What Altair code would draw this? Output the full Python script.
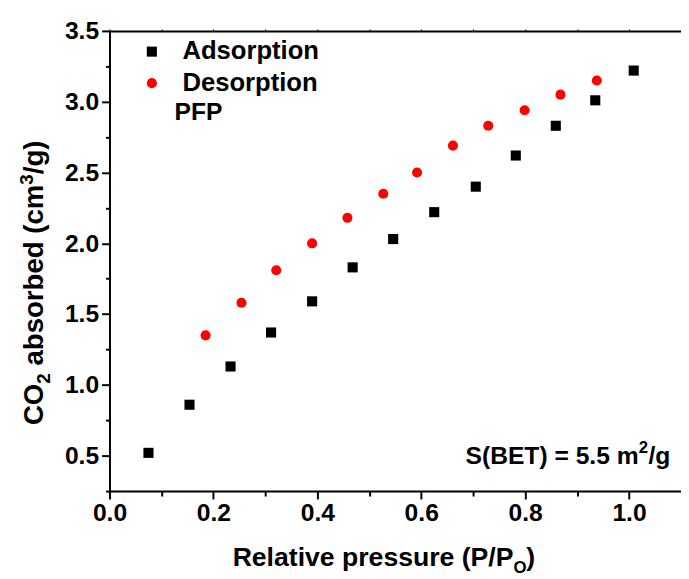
import altair as alt
import pandas as pd

# ---- data ----
ads_x = [0.075, 0.154, 0.233, 0.311, 0.390, 0.468, 0.546, 0.625, 0.705, 0.782, 0.859, 0.935, 1.009]
ads_y = [0.52, 0.86, 1.13, 1.37, 1.59, 1.83, 2.03, 2.22, 2.40, 2.62, 2.83, 3.01, 3.22]
des_x = [0.185, 0.254, 0.321, 0.390, 0.458, 0.527, 0.592, 0.661, 0.729, 0.799, 0.868, 0.938]
des_y = [1.35, 1.58, 1.81, 2.00, 2.18, 2.35, 2.50, 2.69, 2.83, 2.94, 3.05, 3.15]
series = ["Adsorption", "Desorption"]
colors = ["#000000", "#ff0000"]
shapes = ["square", "circle"]
x_ticks = [0.0, 0.1, 0.2, 0.3, 0.4, 0.5, 0.6, 0.7, 0.8, 0.9, 1.0]
y_ticks = [0.25, 0.5, 0.75, 1.0, 1.25, 1.5, 1.75, 2.0, 2.25, 2.5, 2.75, 3.0, 3.25, 3.5]
x_domain = [0.0, 1.1]
y_domain = [0.25, 3.5]

df = pd.DataFrame({
    "p": ads_x + des_x,
    "v": ads_y + des_y,
    "series": [series[0]] * len(ads_x) + [series[1]] * len(des_x),
})

W, H = 580, 467
FONT = "Liberation Sans"

xscale = alt.Scale(domain=x_domain, nice=False, zero=False)
yscale = alt.Scale(domain=y_domain, nice=False, zero=False)

x_major = "round(datum.value*10) % 2 == 0"
y_major = "round(datum.value*4) % 2 == 0"

x_axis = alt.Axis(
    values=x_ticks, title=None, orient="bottom", grid=False,
    labelExpr=f"{x_major} ? format(datum.value, '.1f') : ''",
    tickSize={"condition": {"test": x_major, "value": 8}, "value": 5},
    labelFont=FONT, labelFontSize=25, labelFontWeight="bold", labelColor="black",
    labelPadding=2, domainColor="black", domainWidth=2, tickColor="black", tickWidth=2,
    labelFlush=False, labelOverlap=False,
)
y_axis = alt.Axis(
    values=y_ticks, title=None, orient="left", grid=False,
    labelExpr=f"{y_major} ? format(datum.value, '.1f') : ''",
    tickSize={"condition": {"test": y_major, "value": 8}, "value": 4},
    labelFont=FONT, labelFontSize=25, labelFontWeight="bold", labelColor="black",
    labelPadding=3, domainColor="black", domainWidth=2, tickColor="black", tickWidth=2,
    labelFlush=False, labelOverlap=False,
)
top_axis = alt.Axis(
    values=x_ticks, title=None, orient="top", grid=False, labels=False,
    tickSize=2, domainColor="black", domainWidth=2, tickColor="black", tickWidth=1,
)

legend = alt.Legend(
    title=None, orient="none", legendX=30, legendY=8, padding=0,
    labelFont=FONT, labelFontSize=26, labelFontWeight="bold", labelColor="black",
    labelOffset=18, rowPadding=6, symbolSize=105, symbolStrokeWidth=0,
    symbolOpacity=1,
)

points = alt.Chart(df).mark_point(filled=True, opacity=1, size=105).encode(
    x=alt.X("p:Q", scale=xscale, axis=x_axis),
    y=alt.Y("v:Q", scale=yscale, axis=y_axis),
    color=alt.Color("series:N", scale=alt.Scale(domain=series, range=colors), legend=legend),
    shape=alt.Shape("series:N", scale=alt.Scale(domain=series, range=shapes), legend=legend),
)

top = alt.Chart(df).mark_point(opacity=0, size=0).encode(
    x=alt.X("p:Q", scale=xscale, axis=top_axis),
)

def txt(t, x, y, size=25, align="left", baseline="alphabetic", angle=0):
    return alt.Chart(pd.DataFrame({"t": [t]})).mark_text(
        font=FONT, fontSize=size, fontWeight="bold", color="black",
        align=align, baseline=baseline, angle=angle,
    ).encode(text="t:N", x=alt.value(x), y=alt.value(y))

# annotation texts
pfp = txt("PFP", 66, 90)
bet = alt.layer(
    txt("S(BET) = 5.5 m", 537, 440, align="right"),
    txt("2", 537, 428, size=17, align="left"),
    txt("/g", 547, 440, align="left"),
)
# x axis title: Relative pressure (P/PO)
xt = alt.layer(
    txt("Relative pressure (P/P", 410, 543, size=27, align="right"),
    txt("O", 410, 550, size=17, align="left"),
    txt(")", 423, 543, size=27, align="left"),
)
# y axis title: CO2 absorbed (cm3/g), rotated
bx = -67
y0 = 400
yt = alt.layer(
    txt("CO", bx, y0, size=28, angle=270),
    txt("2", bx + 7, y0 - 42, size=19, angle=270),
    txt("absorbed (cm", bx, y0 - 42 - 10.6 - 7.8, size=28, angle=270),
    txt("3", bx - 11, y0 - 60.4 - 183.6, size=19, angle=270),
    txt("/g)", bx, y0 - 60.4 - 183.6 - 10.6, size=28, angle=270),
)

chart = alt.layer(points, top, pfp, bet, xt, yt).resolve_axis(x="independent").properties(
    width=W, height=H,
    autosize=alt.AutoSizeParams(type="none"),
    padding={"left": 103, "top": 19, "right": 0, "bottom": 88},
).configure_view(strokeWidth=0).configure(background="white")

chart.save("out.html", embed_options={"renderer": "svg", "actions": False})
